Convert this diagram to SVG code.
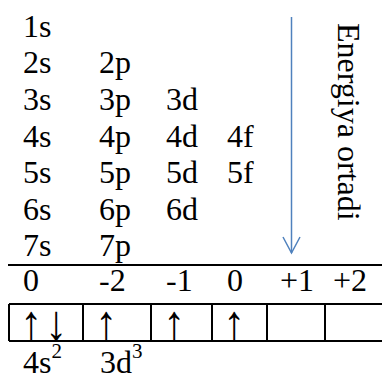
<svg xmlns="http://www.w3.org/2000/svg" width="382" height="377" viewBox="0 0 382 377">
<style>
text{font-family:"Liberation Serif","Times New Roman",serif;fill:#000;font-size:32px}
.sup{font-size:21px}
.ar{font-size:44px;text-anchor:middle}
.ln{stroke:#000;stroke-width:2;fill:none}
</style>
<rect width="382" height="377" fill="#fff"/>
<g id="orbitals">
<text x="23" y="37">1s</text>
<text x="23" y="73">2s</text><text x="99" y="73">2p</text>
<text x="23" y="110">3s</text><text x="99" y="110">3p</text><text x="166" y="110">3d</text>
<text x="23" y="147">4s</text><text x="99" y="147">4p</text><text x="166" y="147">4d</text><text x="227" y="147">4f</text>
<text x="23" y="183">5s</text><text x="99" y="183">5p</text><text x="166" y="183">5d</text><text x="227" y="183">5f</text>
<text x="23" y="220">6s</text><text x="99" y="220">6p</text><text x="166" y="220">6d</text>
<text x="23" y="256">7s</text><text x="99" y="256">7p</text>
</g>
<g id="energy">
<line x1="291.5" y1="17" x2="291.5" y2="253" stroke="#4f81bd" stroke-width="1.5"/>
<polyline points="283,237 291.5,253 300,237" fill="none" stroke="#4f81bd" stroke-width="1.5"/>
<text transform="translate(338,23) rotate(90)" font-size="31">Energiya ortadi</text>
</g>
<g id="table">
<line x1="8" y1="265" x2="382" y2="265" class="ln"/>
<text x="23" y="291">0</text>
<text x="99" y="291">-2</text>
<text x="166" y="291">-1</text>
<text x="227" y="291">0</text>
<text x="280" y="291">+1</text>
<text x="333" y="291">+2</text>
<path class="ln" d="M9,304H382M9,341H382M9,304V341M83,304V341M151,304V341M212,304V341M267,304V341M325,304V341"/>
<text class="ar" transform="translate(31,340) scale(1,1.15)">↑</text>
<text class="ar" transform="translate(56,340) scale(1,1.15)">↓</text>
<text class="ar" transform="translate(106,340) scale(1,1.15)">↑</text>
<text class="ar" transform="translate(174,340) scale(1,1.15)">↑</text>
<text class="ar" transform="translate(234,340) scale(1,1.15)">↑</text>
</g>
<g id="config">
<text x="23" y="373">4s<tspan class="sup" dy="-15">2</tspan></text>
<text x="100" y="373">3d<tspan class="sup" dy="-15">3</tspan></text>
</g>
</svg>
